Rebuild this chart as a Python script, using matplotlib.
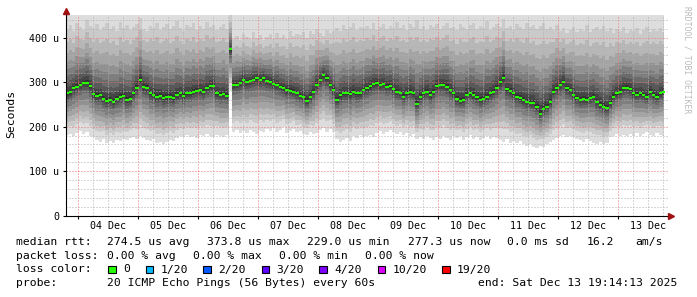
import numpy as np
import pandas as pd
import matplotlib
matplotlib.use("Agg")
import matplotlib.pyplot as plt
import matplotlib.dates as mdates
from matplotlib.patches import Rectangle

plt.rcParams['font.family'] = 'DejaVu Sans Mono'

# smokeping 10 day view, one sample every 80 minutes, values in microseconds
times = pd.date_range("2025-12-03 19:43", periods=180, freq="80min")

median_rtt = [
    275, 277, 286, 290, 294, 299, 299, 291, 273, 269,
    271, 262, 258, 260, 256, 262, 266, 269, 260, 262,
    275, 288, 305, 290, 288, 275, 271, 267, 269, 264,
    266, 267, 264, 271, 275, 269, 275, 275, 279, 281,
    282, 279, 286, 291, 292, 275, 271, 273, 270, 374,
    294, 294, 299, 306, 301, 303, 306, 309, 306, 309,
    303, 301, 296, 294, 290, 286, 282, 281, 279, 275,
    269, 266, 258, 267, 279, 294, 305, 316, 309, 294,
    282, 260, 271, 275, 275, 273, 279, 275, 275, 282,
    286, 291, 296, 298, 294, 296, 290, 291, 284, 279,
    275, 267, 275, 279, 275, 250, 267, 275, 279, 271,
    279, 291, 294, 294, 290, 282, 275, 262, 258, 260,
    271, 275, 271, 266, 260, 262, 267, 275, 279, 288,
    300, 310, 284, 281, 275, 267, 264, 260, 256, 254,
    253, 245, 229, 239, 245, 256, 279, 286, 294, 301,
    286, 282, 271, 264, 260, 262, 260, 264, 267, 256,
    249, 245, 241, 253, 267, 275, 279, 286, 288, 284,
    275, 271, 275, 271, 267, 279, 271, 267, 275, 279,
]

# fastest of the 20 pings
ping_min = [
    181, 184, 179, 186, 190, 183, 187, 180, 176, 170,
    166, 172, 163, 168, 164, 170, 167, 172, 169, 174,
    177, 172, 178, 175, 171, 168, 172, 163, 166, 160,
    165, 170, 167, 174, 178, 176, 181, 177, 180, 175,
    181, 178, 183, 179, 176, 182, 180, 177, 181, 280,
    188, 192, 185, 190, 186, 193, 188, 184, 191, 187,
    194, 190, 197, 188, 193, 199, 186, 191, 195, 187,
    190, 184, 181, 187, 183, 186, 192, 196, 189, 194,
    188, 172, 165, 170, 175, 168, 178, 175, 181, 176,
    179, 182, 177, 186, 191, 184, 189, 193, 187, 183,
    188, 182, 186, 180, 184, 172, 176, 172, 179, 174,
    170, 177, 173, 180, 175, 171, 178, 174, 179, 171,
    176, 181, 173, 177, 170, 175, 179, 172, 176, 174,
    170, 166, 172, 164, 168, 163, 167, 160, 156, 162,
    154, 152, 157, 155, 161, 166, 170, 174, 178, 182,
    176, 180, 177, 172, 170, 166, 172, 168, 164, 162,
    165, 160, 163, 176, 180, 183, 178, 182, 179, 184,
    180, 185, 178, 183, 187, 181, 179, 185, 182, 180,
]

# 19th of the 20 sorted pings
ping_19 = [
    420, 428, 415, 432, 424, 418, 440, 426, 421, 430,
    417, 425, 433, 419, 427, 414, 436, 422, 429, 418,
    424, 431, 445, 420, 416, 427, 422, 434, 418, 425,
    430, 419, 426, 438, 421, 415, 428, 423, 432, 417,
    426, 420, 435, 424, 429, 418, 423, 431, 420, 450,
    398, 404, 395, 409, 401, 396, 412, 399, 405, 394,
    402, 408, 397, 411, 400, 406, 398, 414, 403, 409,
    405, 412, 400, 416, 408, 419, 411, 404, 417, 410,
    414, 422, 416, 428, 419, 425, 432, 418, 424, 421,
    427, 420, 433, 417, 425, 430, 419, 426, 422, 436,
    421, 428, 418, 431, 424, 440, 420, 426, 417, 429,
    423, 430, 419, 427, 434, 421, 425, 418, 431, 424,
    420, 428, 433, 419, 426, 422, 437, 418, 425, 430,
    424, 442, 421, 427, 418, 431, 425, 420, 434, 423,
    428, 419, 426, 432, 420, 425, 417, 429, 415, 422,
    410, 418, 425, 413, 420, 416, 428, 412, 419, 424,
    417, 426, 414, 421, 411, 419, 415, 423, 410, 418,
    414, 421, 408, 417, 425, 412, 419, 415, 422, 413,
]

# where pings 1..10 sit between min and median, pings 11..19 between median and ping 19
below_frac = [1.0, 0.80, 0.68, 0.56, 0.44, 0.33, 0.21, 0.14, 0.08, 0.03]
above_frac = [0.04, 0.10, 0.18, 0.27, 0.37, 0.48, 0.63, 0.80, 1.0]

loss_labels = ['0', '1/20', '2/20', '3/20', '4/20', '10/20', '19/20']
loss_colors = ['#26ff00', '#00b8ff', '#0059ff', '#5e00ff', '#7e00ff', '#dd00ff', '#ff0000']

YMAX = 451
W, H = 697, 297

x = mdates.date2num(times)
step = x[1] - x[0]
med = np.array(median_rtt, dtype=float)
lo = np.array(ping_min, dtype=float)
hi = np.array(ping_19, dtype=float)

pings = [med - f * (med - lo) for f in below_frac]
pings += [med + f * (hi - med) for f in above_frac]
pings.append(np.full(len(med), YMAX))

fig = plt.figure(figsize=(W / 100, H / 100), dpi=100)
ax = fig.add_axes([66.3 / W, (H - 215.7) / H, 602 / W, 200.7 / H])

# smoke: pair i with pair 21-i, outer ones light, inner ones dark
for k in range(10):
    shade = (int(190 / 10 * (10 - (k + 1))) + 50) / 255
    ax.fill_between(x, pings[k], pings[19 - k], step='mid', color=(shade, shade, shade),
                    linewidth=0, antialiased=False, zorder=1)

# median as short dashes, one per sample
ax.hlines(med, x - step / 2, x + step / 2, color='#26ff00', lw=1.5, zorder=5)

t0 = pd.Timestamp("2025-12-03 19:26")
t1 = pd.Timestamp("2025-12-13 20:14")
ax.set_xlim(mdates.date2num(t0), mdates.date2num(t1))
ax.set_ylim(0, YMAX)

# dotted grid on top of the smoke
grid_times = pd.date_range("2025-12-04 00:00", "2025-12-13 18:00", freq="6h")
for gt in grid_times:
    major = gt.hour == 0
    ax.axvline(mdates.date2num(gt), color='#f07070' if major else '#b0b0b0',
               lw=0.72, ls=(0, (1, 2)), zorder=3)
for gy in range(20, YMAX, 20):
    major = gy % 100 == 0
    ax.axhline(gy, color='#f07070' if major else '#b0b0b0',
               lw=0.72, ls=(0, (1, 2)), zorder=3)

for side in ['top', 'right']:
    ax.spines[side].set_visible(False)
for side in ['left', 'bottom']:
    ax.spines[side].set_linewidth(0.8)
    ax.spines[side].set_zorder(6)

midnights = pd.date_range("2025-12-04", "2025-12-13", freq="D")
noons = midnights + pd.Timedelta(hours=12)
ax.set_xticks(mdates.date2num(midnights))
ax.set_xticklabels([])
ax.set_xticks(mdates.date2num(noons), minor=True)
ax.set_xticklabels([d.strftime('%d %b') for d in noons], minor=True)
ax.tick_params(axis='x', which='major', length=2.5, width=0.8, direction='out')
ax.tick_params(axis='x', which='minor', length=0, pad=3.6, labelsize=7.2)

ax.set_yticks([0, 100, 200, 300, 400])
ax.set_yticklabels(['0', '100 u', '200 u', '300 u', '400 u'])
ax.tick_params(axis='y', length=2.5, width=0.8, pad=2.6, labelsize=7.2)

# axis arrows
ax.plot([0], [1 + 4 / 200.7], marker='^', ms=4, color='#a01010', transform=ax.transAxes,
        clip_on=False, zorder=7)
ax.plot([1 + 3 / 602], [0], marker='>', ms=4, color='#a01010', transform=ax.transAxes,
        clip_on=False, zorder=7)

fig.text(11 / W, 1 - 114 / H, 'Seconds', rotation=90, ha='center', va='center', fontsize=8.2)
fig.text(687.5 / W, 1 - 60 / H, 'RRDTOOL / TOBI OETIKER', rotation=270, ha='center',
         va='center', fontsize=5.8, color='#bbbbbb')


def put(px, base, s):
    fig.text(px / W, 1 - base / H, s, fontsize=8.2, va='baseline', ha='left')


row1, row2, row3, row4 = 245, 258.7, 272.5, 286.3
put(16, row1, 'median rtt:')
put(107.3, row1, '274.5 us avg')
put(207.3, row1, '373.8 us max')
put(307.3, row1, '229.0 us min')
put(407.7, row1, '277.3 us now')
put(506.7, row1, '0.0 ms sd')
put(586.7, row1, '16.2')
put(635, row1, 'am/s')

put(16, row2, 'packet loss:')
put(107.3, row2, '0.00 % avg')
put(193.3, row2, '0.00 % max')
put(279.3, row2, '0.00 % min')
put(365, row2, '0.00 % now')

put(16, row3, 'loss color:')
box_x = [108.3, 145.7, 203.3, 261.7, 319.3, 377.7, 442.3]
for bx, lab, col in zip(box_x, loss_labels, loss_colors):
    fig.add_artist(Rectangle((bx / W, 1 - 273.3 / H), 7.5 / W, 7.5 / H, transform=fig.transFigure,
                             facecolor=col, edgecolor='black', lw=0.8))
    put(bx + 14.7, row3, lab)

put(16, row4, 'probe:')
put(107.3, row4, '20 ICMP Echo Pings (56 Bytes) every 60s')
put(478.3, row4, 'end: Sat Dec 13 19:14:13 2025')

fig.savefig('out.png', dpi=100)
